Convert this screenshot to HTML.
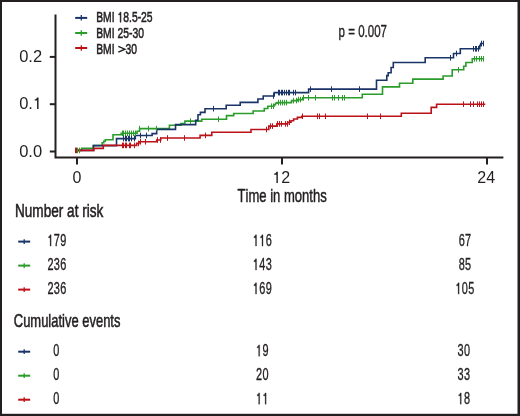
<!DOCTYPE html>
<html><head><meta charset="utf-8"><style>
html,body{margin:0;padding:0;background:#fff;}
svg{display:block;will-change:transform;}
text{font-family:"Liberation Sans",sans-serif;fill:#231f20;font-kerning:none;}
</style></head><body>
<svg width="520" height="416" viewBox="0 0 520 416">
<rect x="0" y="0" width="520" height="416" fill="#231f20"/>
<rect x="2" y="2" width="515.5" height="411.8" fill="#fff"/>
<path d="M55.5 14.4V157.5H503.4" fill="none" stroke="#231f20" stroke-width="2"/>
<path d="M49.8 56.9H55" stroke="#231f20" stroke-width="2"/>
<path d="M49.8 104.2H55" stroke="#231f20" stroke-width="2"/>
<path d="M49.8 151.5H55" stroke="#231f20" stroke-width="2"/>
<path d="M77.0 158V164.6" stroke="#231f20" stroke-width="2"/>
<path d="M282.0 158V164.6" stroke="#231f20" stroke-width="2"/>
<path d="M487.0 158V164.6" stroke="#231f20" stroke-width="2"/>
<path d="M76.4 150.4 H81.6 V148.3 H93.2 V145.5 H102.2 V142.8 H103.8 V141.2 H105.3 V139.7 H113.0 V134.8 H121.2 V133.3 H137.1 V131.2 H139.6 V128.6 H169.4 V125.3 H180.9 V123.6 H184.9 V121.1 H201.7 V119.2 H226.5 V115.6 H233.7 V113.5 H253.1 V111.0 H264.3 V108.5 H267.8 V106.2 H274.0 V104.7 H275.5 V103.2 H277.0 V102.6 H291.5 V100.6 H297.4 V99.6 H302.8 V97.8 H362.3 V94.3 H382.5 V86.9 H399.5 V83.3 H412.8 V79.1 H443.1 V76.0 H452.2 V69.8 H463.7 V66.2 H465.9 V62.5 H472.3 V58.8 H483.4" fill="none" stroke="#2a9c2a" stroke-width="1.6"/><path d="M76.4 150.4 H93.5 V145.6 H116.5 V138.6 H135.3 V135.5 H152.1 V133.6 H156.7 V129.4 H175.5 V124.6 H195.7 V120.2 H198.0 V114.8 H200.4 V112.4 H205.0 V108.7 H226.2 V105.3 H240.2 V102.4 H257.9 V99.0 H263.2 V96.0 H274.2 V92.6 H308.6 V89.1 H376.5 V80.3 H386.8 V75.6 H388.2 V72.7 H391.1 V67.5 H393.3 V62.5 H425.2 V57.8 H453.5 V53.5 H460.3 V48.8 H479.7 V45.6 H480.7 V43.5 H483.4" fill="none" stroke="#1a3468" stroke-width="1.6"/><path d="M76.4 150.4 H93.9 V148.4 H103.3 V145.4 H136.7 V143.4 H138.9 V141.8 H156.7 V140.0 H160.7 V138.0 H200.1 V135.4 H211.8 V132.3 H251.0 V129.5 H268.8 V126.1 H276.9 V123.9 H287.7 V122.3 H291.0 V120.7 H293.6 V119.0 H297.4 V117.4 H301.8 V116.3 H401.3 V113.2 H431.2 V107.4 H436.6 V104.2 H485.3" fill="none" stroke="#bb1118" stroke-width="1.6"/><path d="M77.5 147.6V153.2" stroke="#2a9c2a" stroke-width="1"/><path d="M79.5 147.6V153.2" stroke="#2a9c2a" stroke-width="1"/><path d="M122.5 130.5V136.1" stroke="#2a9c2a" stroke-width="1"/><path d="M123.5 130.5V136.1" stroke="#2a9c2a" stroke-width="1"/><path d="M125.5 130.5V136.1" stroke="#2a9c2a" stroke-width="1"/><path d="M127.5 130.5V136.1" stroke="#2a9c2a" stroke-width="1"/><path d="M129.5 130.5V136.1" stroke="#2a9c2a" stroke-width="1"/><path d="M131.5 130.5V136.1" stroke="#2a9c2a" stroke-width="1"/><path d="M133.5 130.5V136.1" stroke="#2a9c2a" stroke-width="1"/><path d="M135.5 130.5V136.1" stroke="#2a9c2a" stroke-width="1"/><path d="M139.5 125.8V131.4" stroke="#2a9c2a" stroke-width="1"/><path d="M148.5 125.8V131.4" stroke="#2a9c2a" stroke-width="1"/><path d="M156.5 125.8V131.4" stroke="#2a9c2a" stroke-width="1"/><path d="M190.5 118.3V123.9" stroke="#2a9c2a" stroke-width="1"/><path d="M218.5 116.4V122.0" stroke="#2a9c2a" stroke-width="1"/><path d="M271.5 103.4V109.0" stroke="#2a9c2a" stroke-width="1"/><path d="M273.5 103.4V109.0" stroke="#2a9c2a" stroke-width="1"/><path d="M278.5 99.8V105.4" stroke="#2a9c2a" stroke-width="1"/><path d="M280.5 99.8V105.4" stroke="#2a9c2a" stroke-width="1"/><path d="M282.5 99.8V105.4" stroke="#2a9c2a" stroke-width="1"/><path d="M284.5 99.8V105.4" stroke="#2a9c2a" stroke-width="1"/><path d="M286.5 99.8V105.4" stroke="#2a9c2a" stroke-width="1"/><path d="M293.5 97.8V103.4" stroke="#2a9c2a" stroke-width="1"/><path d="M296.5 97.8V103.4" stroke="#2a9c2a" stroke-width="1"/><path d="M298.5 96.8V102.4" stroke="#2a9c2a" stroke-width="1"/><path d="M300.5 96.8V102.4" stroke="#2a9c2a" stroke-width="1"/><path d="M303.5 95.0V100.6" stroke="#2a9c2a" stroke-width="1"/><path d="M308.5 95.0V100.6" stroke="#2a9c2a" stroke-width="1"/><path d="M315.5 95.0V100.6" stroke="#2a9c2a" stroke-width="1"/><path d="M332.5 95.0V100.6" stroke="#2a9c2a" stroke-width="1"/><path d="M334.5 95.0V100.6" stroke="#2a9c2a" stroke-width="1"/><path d="M338.5 95.0V100.6" stroke="#2a9c2a" stroke-width="1"/><path d="M342.5 95.0V100.6" stroke="#2a9c2a" stroke-width="1"/><path d="M344.5 95.0V100.6" stroke="#2a9c2a" stroke-width="1"/><path d="M458.5 67.0V72.6" stroke="#2a9c2a" stroke-width="1"/><path d="M474.5 56.0V61.6" stroke="#2a9c2a" stroke-width="1"/><path d="M476.5 56.0V61.6" stroke="#2a9c2a" stroke-width="1"/><path d="M479.5 56.0V61.6" stroke="#2a9c2a" stroke-width="1"/><path d="M481.5 56.0V61.6" stroke="#2a9c2a" stroke-width="1"/><path d="M483.5 56.0V61.6" stroke="#2a9c2a" stroke-width="1"/><path d="M123.5 135.8V141.4" stroke="#1a3468" stroke-width="1"/><path d="M125.5 135.8V141.4" stroke="#1a3468" stroke-width="1"/><path d="M126.5 135.8V141.4" stroke="#1a3468" stroke-width="1"/><path d="M128.5 135.8V141.4" stroke="#1a3468" stroke-width="1"/><path d="M129.5 135.8V141.4" stroke="#1a3468" stroke-width="1"/><path d="M131.5 135.8V141.4" stroke="#1a3468" stroke-width="1"/><path d="M134.5 135.8V141.4" stroke="#1a3468" stroke-width="1"/><path d="M140.5 132.7V138.3" stroke="#1a3468" stroke-width="1"/><path d="M146.5 132.7V138.3" stroke="#1a3468" stroke-width="1"/><path d="M213.5 105.9V111.5" stroke="#1a3468" stroke-width="1"/><path d="M273.5 93.2V98.8" stroke="#1a3468" stroke-width="1"/><path d="M278.5 89.8V95.4" stroke="#1a3468" stroke-width="1"/><path d="M279.5 89.8V95.4" stroke="#1a3468" stroke-width="1"/><path d="M281.5 89.8V95.4" stroke="#1a3468" stroke-width="1"/><path d="M282.5 89.8V95.4" stroke="#1a3468" stroke-width="1"/><path d="M284.5 89.8V95.4" stroke="#1a3468" stroke-width="1"/><path d="M286.5 89.8V95.4" stroke="#1a3468" stroke-width="1"/><path d="M288.5 89.8V95.4" stroke="#1a3468" stroke-width="1"/><path d="M289.5 89.8V95.4" stroke="#1a3468" stroke-width="1"/><path d="M293.5 89.8V95.4" stroke="#1a3468" stroke-width="1"/><path d="M295.5 89.8V95.4" stroke="#1a3468" stroke-width="1"/><path d="M310.5 86.3V91.9" stroke="#1a3468" stroke-width="1"/><path d="M331.5 86.3V91.9" stroke="#1a3468" stroke-width="1"/><path d="M359.5 86.3V91.9" stroke="#1a3468" stroke-width="1"/><path d="M450.5 55.0V60.6" stroke="#1a3468" stroke-width="1"/><path d="M456.5 50.7V56.3" stroke="#1a3468" stroke-width="1"/><path d="M473.5 46.0V51.6" stroke="#1a3468" stroke-width="1"/><path d="M475.5 46.0V51.6" stroke="#1a3468" stroke-width="1"/><path d="M476.5 46.0V51.6" stroke="#1a3468" stroke-width="1"/><path d="M478.5 46.0V51.6" stroke="#1a3468" stroke-width="1"/><path d="M481.5 40.7V46.3" stroke="#1a3468" stroke-width="1"/><path d="M483.5 40.7V46.3" stroke="#1a3468" stroke-width="1"/><path d="M75.5 147.6V153.2" stroke="#bb1118" stroke-width="1"/><path d="M76.5 147.6V153.2" stroke="#bb1118" stroke-width="1"/><path d="M122.5 142.6V148.2" stroke="#bb1118" stroke-width="1"/><path d="M123.5 142.6V148.2" stroke="#bb1118" stroke-width="1"/><path d="M125.5 142.6V148.2" stroke="#bb1118" stroke-width="1"/><path d="M126.5 142.6V148.2" stroke="#bb1118" stroke-width="1"/><path d="M129.5 142.6V148.2" stroke="#bb1118" stroke-width="1"/><path d="M130.5 142.6V148.2" stroke="#bb1118" stroke-width="1"/><path d="M134.5 142.6V148.2" stroke="#bb1118" stroke-width="1"/><path d="M138.5 140.6V146.2" stroke="#bb1118" stroke-width="1"/><path d="M140.5 139.0V144.6" stroke="#bb1118" stroke-width="1"/><path d="M145.5 139.0V144.6" stroke="#bb1118" stroke-width="1"/><path d="M157.5 137.2V142.8" stroke="#bb1118" stroke-width="1"/><path d="M160.5 137.2V142.8" stroke="#bb1118" stroke-width="1"/><path d="M167.5 135.2V140.8" stroke="#bb1118" stroke-width="1"/><path d="M184.5 135.2V140.8" stroke="#bb1118" stroke-width="1"/><path d="M205.5 132.6V138.2" stroke="#bb1118" stroke-width="1"/><path d="M266.5 126.7V132.3" stroke="#bb1118" stroke-width="1"/><path d="M270.5 123.3V128.9" stroke="#bb1118" stroke-width="1"/><path d="M272.5 123.3V128.9" stroke="#bb1118" stroke-width="1"/><path d="M277.5 121.1V126.7" stroke="#bb1118" stroke-width="1"/><path d="M279.5 121.1V126.7" stroke="#bb1118" stroke-width="1"/><path d="M281.5 121.1V126.7" stroke="#bb1118" stroke-width="1"/><path d="M285.5 121.1V126.7" stroke="#bb1118" stroke-width="1"/><path d="M287.5 121.1V126.7" stroke="#bb1118" stroke-width="1"/><path d="M289.5 119.5V125.1" stroke="#bb1118" stroke-width="1"/><path d="M302.5 113.5V119.1" stroke="#bb1118" stroke-width="1"/><path d="M317.5 113.5V119.1" stroke="#bb1118" stroke-width="1"/><path d="M319.5 113.5V119.1" stroke="#bb1118" stroke-width="1"/><path d="M325.5 113.5V119.1" stroke="#bb1118" stroke-width="1"/><path d="M367.5 113.5V119.1" stroke="#bb1118" stroke-width="1"/><path d="M380.5 113.5V119.1" stroke="#bb1118" stroke-width="1"/><path d="M463.5 101.4V107.0" stroke="#bb1118" stroke-width="1"/><path d="M470.5 101.4V107.0" stroke="#bb1118" stroke-width="1"/><path d="M473.5 101.4V107.0" stroke="#bb1118" stroke-width="1"/><path d="M477.5 101.4V107.0" stroke="#bb1118" stroke-width="1"/><path d="M479.5 101.4V107.0" stroke="#bb1118" stroke-width="1"/><path d="M481.5 101.4V107.0" stroke="#bb1118" stroke-width="1"/><path d="M483.5 101.4V107.0" stroke="#bb1118" stroke-width="1"/>
<path d="M75.2 17.9H87.2" stroke="#1a3468" stroke-width="2"/><path d="M81.3 15.1V20.6" stroke="#1a3468" stroke-width="1.3"/>
<path d="M75.2 33.0H87.2" stroke="#2a9c2a" stroke-width="2"/><path d="M81.3 30.2V35.8" stroke="#2a9c2a" stroke-width="1.3"/>
<path d="M75.2 48.0H87.2" stroke="#bb1118" stroke-width="2"/><path d="M81.3 45.3V50.8" stroke="#bb1118" stroke-width="1.3"/>
<path d="M18.2 241.6H30.2" stroke="#1a3468" stroke-width="2"/><path d="M24.2 239.2V244.0" stroke="#1a3468" stroke-width="1.3"/>
<path d="M18.2 265.6H30.2" stroke="#2a9c2a" stroke-width="2"/><path d="M24.2 263.2V268.0" stroke="#2a9c2a" stroke-width="1.3"/>
<path d="M18.2 289.6H30.2" stroke="#bb1118" stroke-width="2"/><path d="M24.2 287.2V292.0" stroke="#bb1118" stroke-width="1.3"/>
<path d="M18.2 351.7H30.2" stroke="#1a3468" stroke-width="2"/><path d="M24.2 349.3V354.1" stroke="#1a3468" stroke-width="1.3"/>
<path d="M18.2 375.7H30.2" stroke="#2a9c2a" stroke-width="2"/><path d="M24.2 373.3V378.1" stroke="#2a9c2a" stroke-width="1.3"/>
<path d="M18.2 399.7H30.2" stroke="#bb1118" stroke-width="2"/><path d="M24.2 397.3V402.1" stroke="#bb1118" stroke-width="1.3"/>
<g><g transform="translate(96.20 22.20) scale(0.715 1)"><text font-size="14.50" text-anchor="start" stroke="#231f20" stroke-width="0.55">BMI &#x2007;8.5-25</text><path fill="#231f20" transform="translate(29.807 0) scale(0.00708 -0.00708)" d="M515 0L515 1050L215 1050L215 1175Q440 1190 520 1420L696 1420L696 0Z" stroke="#231f20" stroke-width="77.7"/></g>
<text transform="translate(96.20 38.10) scale(0.715 1)" font-size="14.50" text-anchor="start" stroke="#231f20" stroke-width="0.55">BMI 25-30</text>
<text transform="translate(96.20 53.50) scale(0.715 1)" font-size="14.50" text-anchor="start" stroke="#231f20" stroke-width="0.55">BMI</text>
<path d="M118.3 46.3L124.9 49.2L118.3 52.1" fill="none" stroke="#231f20" stroke-width="1.45"/>
<text transform="translate(125.40 53.50) scale(0.715 1)" font-size="14.50" text-anchor="start" stroke="#231f20" stroke-width="0.55">30</text>
<text transform="translate(338.60 36.90) scale(0.730 1)" font-size="15.80" text-anchor="start" stroke="#231f20" stroke-width="0.35">p = 0.007</text>
<text transform="translate(42.10 62.40) scale(1.000 1)" font-size="16.50" text-anchor="end">0.2</text>
<g transform="translate(42.10 109.00) scale(1.000 1)"><text font-size="16.50" text-anchor="end">0.&#x2007;</text><path fill="#231f20" transform="translate(-9.177 0) scale(0.00806 -0.00806)" d="M515 0L515 1050L215 1050L215 1175Q440 1190 520 1420L696 1420L696 0Z"/></g>
<text transform="translate(42.10 156.80) scale(1.000 1)" font-size="16.50" text-anchor="end">0.0</text>
<text transform="translate(77.00 182.90) scale(1.000 1)" font-size="16.00" text-anchor="middle">0</text>
<g transform="translate(281.30 182.90) scale(1.000 1)"><text font-size="16.00" text-anchor="middle">&#x2007;2</text><path fill="#231f20" transform="translate(-8.898 0) scale(0.00781 -0.00781)" d="M515 0L515 1050L215 1050L215 1175Q440 1190 520 1420L696 1420L696 0Z"/></g>
<text transform="translate(486.20 182.90) scale(1.000 1)" font-size="16.00" text-anchor="middle">24</text>
<text transform="translate(282.10 201.50) scale(0.725 1)" font-size="18.00" text-anchor="middle" stroke="#231f20" stroke-width="0.50">Time in months</text>
<text transform="translate(15.00 216.80) scale(0.755 1)" font-size="18.00" text-anchor="start" stroke="#231f20" stroke-width="0.55">Number at risk</text>
<text transform="translate(13.80 326.80) scale(0.705 1)" font-size="18.40" text-anchor="start" stroke="#231f20" stroke-width="0.55">Cumulative events</text>
<g transform="translate(57.10 246.10) scale(0.670 1)"><text font-size="16.30" text-anchor="middle" stroke="#231f20" stroke-width="0.35" letter-spacing="0.60">&#x2007;79</text><path fill="#231f20" transform="translate(-14.498 0) scale(0.00796 -0.00796)" d="M515 0L515 1050L215 1050L215 1175Q440 1190 520 1420L696 1420L696 0Z" stroke="#231f20" stroke-width="44.0"/></g>
<g transform="translate(262.50 246.10) scale(0.670 1)"><text font-size="16.30" text-anchor="middle" stroke="#231f20" stroke-width="0.35" letter-spacing="0.60">&#x2007;&#x2007;6</text><path fill="#231f20" transform="translate(-14.498 0) scale(0.00796 -0.00796)" d="M515 0L515 1050L215 1050L215 1175Q440 1190 520 1420L696 1420L696 0Z" stroke="#231f20" stroke-width="44.0"/><path fill="#231f20" transform="translate(-4.833 0) scale(0.00796 -0.00796)" d="M515 0L515 1050L215 1050L215 1175Q440 1190 520 1420L696 1420L696 0Z" stroke="#231f20" stroke-width="44.0"/></g>
<text transform="translate(465.10 246.10) scale(0.670 1)" font-size="16.30" text-anchor="middle" stroke="#231f20" stroke-width="0.35" letter-spacing="0.60">67</text>
<text transform="translate(57.10 270.10) scale(0.670 1)" font-size="16.30" text-anchor="middle" stroke="#231f20" stroke-width="0.35" letter-spacing="0.60">236</text>
<g transform="translate(262.50 270.10) scale(0.670 1)"><text font-size="16.30" text-anchor="middle" stroke="#231f20" stroke-width="0.35" letter-spacing="0.60">&#x2007;43</text><path fill="#231f20" transform="translate(-14.498 0) scale(0.00796 -0.00796)" d="M515 0L515 1050L215 1050L215 1175Q440 1190 520 1420L696 1420L696 0Z" stroke="#231f20" stroke-width="44.0"/></g>
<text transform="translate(465.10 270.10) scale(0.670 1)" font-size="16.30" text-anchor="middle" stroke="#231f20" stroke-width="0.35" letter-spacing="0.60">85</text>
<text transform="translate(57.10 294.10) scale(0.670 1)" font-size="16.30" text-anchor="middle" stroke="#231f20" stroke-width="0.35" letter-spacing="0.60">236</text>
<g transform="translate(262.50 294.10) scale(0.670 1)"><text font-size="16.30" text-anchor="middle" stroke="#231f20" stroke-width="0.35" letter-spacing="0.60">&#x2007;69</text><path fill="#231f20" transform="translate(-14.498 0) scale(0.00796 -0.00796)" d="M515 0L515 1050L215 1050L215 1175Q440 1190 520 1420L696 1420L696 0Z" stroke="#231f20" stroke-width="44.0"/></g>
<g transform="translate(465.10 294.10) scale(0.670 1)"><text font-size="16.30" text-anchor="middle" stroke="#231f20" stroke-width="0.35" letter-spacing="0.60">&#x2007;05</text><path fill="#231f20" transform="translate(-14.498 0) scale(0.00796 -0.00796)" d="M515 0L515 1050L215 1050L215 1175Q440 1190 520 1420L696 1420L696 0Z" stroke="#231f20" stroke-width="44.0"/></g>
<text transform="translate(56.40 356.20) scale(0.670 1)" font-size="16.30" text-anchor="middle" stroke="#231f20" stroke-width="0.35" letter-spacing="0.60">0</text>
<g transform="translate(262.40 356.20) scale(0.670 1)"><text font-size="16.30" text-anchor="middle" stroke="#231f20" stroke-width="0.35" letter-spacing="0.60">&#x2007;9</text><path fill="#231f20" transform="translate(-9.665 0) scale(0.00796 -0.00796)" d="M515 0L515 1050L215 1050L215 1175Q440 1190 520 1420L696 1420L696 0Z" stroke="#231f20" stroke-width="44.0"/></g>
<text transform="translate(464.00 356.20) scale(0.670 1)" font-size="16.30" text-anchor="middle" stroke="#231f20" stroke-width="0.35" letter-spacing="0.60">30</text>
<text transform="translate(56.40 380.20) scale(0.670 1)" font-size="16.30" text-anchor="middle" stroke="#231f20" stroke-width="0.35" letter-spacing="0.60">0</text>
<text transform="translate(262.40 380.20) scale(0.670 1)" font-size="16.30" text-anchor="middle" stroke="#231f20" stroke-width="0.35" letter-spacing="0.60">20</text>
<text transform="translate(464.00 380.20) scale(0.670 1)" font-size="16.30" text-anchor="middle" stroke="#231f20" stroke-width="0.35" letter-spacing="0.60">33</text>
<text transform="translate(56.40 404.20) scale(0.670 1)" font-size="16.30" text-anchor="middle" stroke="#231f20" stroke-width="0.35" letter-spacing="0.60">0</text>
<g transform="translate(262.40 404.20) scale(0.670 1)"><text font-size="16.30" text-anchor="middle" stroke="#231f20" stroke-width="0.35" letter-spacing="0.60">&#x2007;&#x2007;</text><path fill="#231f20" transform="translate(-9.665 0) scale(0.00796 -0.00796)" d="M515 0L515 1050L215 1050L215 1175Q440 1190 520 1420L696 1420L696 0Z" stroke="#231f20" stroke-width="44.0"/><path fill="#231f20" transform="translate(0.000 0) scale(0.00796 -0.00796)" d="M515 0L515 1050L215 1050L215 1175Q440 1190 520 1420L696 1420L696 0Z" stroke="#231f20" stroke-width="44.0"/></g>
<g transform="translate(464.00 404.20) scale(0.670 1)"><text font-size="16.30" text-anchor="middle" stroke="#231f20" stroke-width="0.35" letter-spacing="0.60">&#x2007;8</text><path fill="#231f20" transform="translate(-9.665 0) scale(0.00796 -0.00796)" d="M515 0L515 1050L215 1050L215 1175Q440 1190 520 1420L696 1420L696 0Z" stroke="#231f20" stroke-width="44.0"/></g></g>
</svg>
</body></html>
